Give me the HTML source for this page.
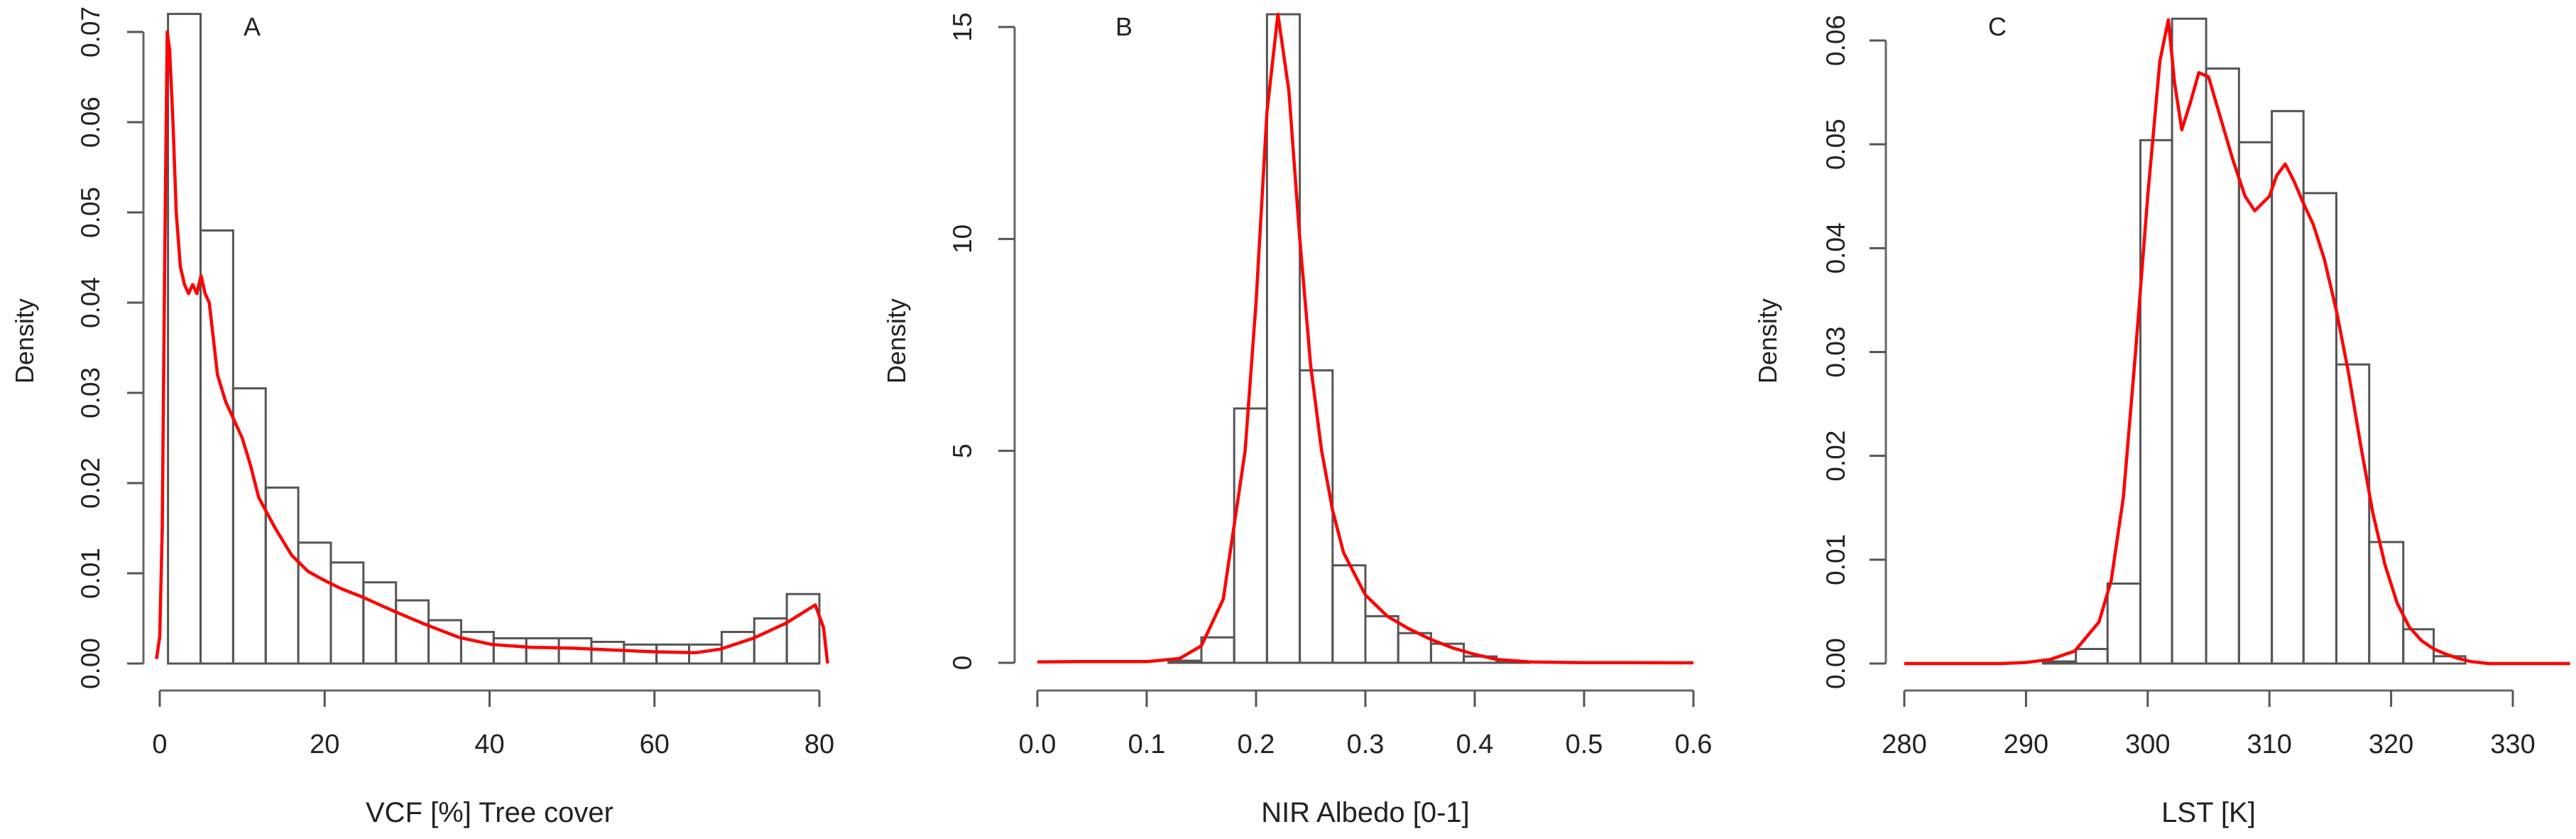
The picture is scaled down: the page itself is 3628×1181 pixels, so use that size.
<!DOCTYPE html>
<html><head><meta charset="utf-8"><style>
html,body{margin:0;padding:0;background:#fff;}
svg{display:block;}
text{font-family:"Liberation Sans",sans-serif;fill:#222;}
</style></head><body>
<svg id="chart" width="3628" height="1181" viewBox="0 0 3628 1181" xmlns="http://www.w3.org/2000/svg"></svg>
<script>
// Panel A: VCF tree cover
const aBinEdges = [1,4.95,8.9,12.85,16.8,20.75,24.7,28.65,32.6,36.55,40.5,44.45,48.4,52.35,56.3,60.25,64.2,68.15,72.1,76.05,80];
const aBarValues = [0.072,0.048,0.0305,0.0195,0.0134,0.0112,0.009,0.007,0.0048,0.0035,0.0028,0.0028,0.0028,0.0024,0.0021,0.0021,0.0021,0.0035,0.005,0.0077];
const aCurveX = [-0.4,0,0.3,0.6,0.9,1.2,1.6,2,2.5,3,3.5,4,4.5,5,5.5,6,6.5,7,8,9,10,11,12,14,16,18,20,22,24.5,28.4,32.3,36.3,40.3,45,50,55,60,65,68,72,76,79.5,80.5,81];
const aCurveY = [0.0005,0.003,0.015,0.045,0.07,0.068,0.06,0.05,0.044,0.042,0.041,0.042,0.041,0.043,0.041,0.04,0.036,0.032,0.029,0.027,0.025,0.022,0.0184,0.015,0.012,0.0102,0.0092,0.0083,0.0074,0.0058,0.0043,0.0029,0.0021,0.0018,0.0017,0.0015,0.0013,0.0012,0.0016,0.0028,0.0045,0.0065,0.004,0.0];
const aXTicks = [0,20,40,60,80];
const aYTicks = [0,0.01,0.02,0.03,0.04,0.05,0.06,0.07];
const aYTickLabels = ["0.00","0.01","0.02","0.03","0.04","0.05","0.06","0.07"];

// Panel B: NIR albedo
const bBinEdges = [0.12,0.15,0.18,0.21,0.24,0.27,0.30,0.33,0.36,0.39,0.42,0.45];
const bBarValues = [0.05,0.6,6.0,15.3,6.9,2.3,1.1,0.7,0.45,0.15,0.03];
const bCurveX = [0,0.05,0.1,0.13,0.15,0.17,0.19,0.2,0.21,0.22,0.23,0.24,0.25,0.26,0.27,0.28,0.3,0.32,0.34,0.36,0.38,0.4,0.42,0.45,0.5,0.6];
const bCurveY = [0.02,0.03,0.03,0.1,0.4,1.5,5,8.5,13,15.3,13.5,10,7,5,3.6,2.6,1.6,1.1,0.8,0.55,0.35,0.2,0.08,0.02,0.005,0];
const bXTicks = [0,0.1,0.2,0.3,0.4,0.5,0.6];
const bXTickLabels = ["0.0","0.1","0.2","0.3","0.4","0.5","0.6"];
const bYTicks = [0,5,10,15];
const bYTickLabels = ["0","5","10","15"];

// Panel C: LST
const cBinEdges = [291.4,294.1,296.7,299.4,302.0,304.8,307.5,310.2,312.8,315.5,318.2,321.0,323.5,326.1];
const cBarValues = [0.0002,0.0014,0.0077,0.0504,0.0621,0.0573,0.0502,0.0532,0.0453,0.0288,0.0117,0.0033,0.0007];
const cCurveX = [280,288,290,292,294,296,297,298,299,300,301,301.7,302.2,302.8,303.5,304.2,305,306,307,308,308.8,310,310.6,311.3,312,312.8,313.6,314.5,315.5,316.5,317.5,318.5,319.5,320.5,321.5,322.5,323.5,324.5,325.5,326.5,328,334.7];
const cCurveY = [0,0,0.0001,0.0004,0.0012,0.004,0.008,0.016,0.03,0.045,0.058,0.062,0.056,0.0514,0.054,0.0569,0.0565,0.0525,0.0485,0.045,0.0436,0.045,0.047,0.0481,0.0465,0.0443,0.0423,0.039,0.034,0.028,0.021,0.0145,0.0095,0.0058,0.0035,0.0022,0.0014,0.0009,0.0005,0.0002,0,0];
const cXTicks = [280,290,300,310,320,330];
const cYTicks = [0,0.01,0.02,0.03,0.04,0.05,0.06];
const cYTickLabels = ["0.00","0.01","0.02","0.03","0.04","0.05","0.06"];

const NS = "http://www.w3.org/2000/svg";
const svg = document.getElementById("chart");
function mk(tag, attrs, parent){
  const e = document.createElementNS(NS, tag);
  for (const k in attrs) e.setAttribute(k, attrs[k]);
  (parent||svg).appendChild(e);
  return e;
}

function panel(cfg){
  const g = mk("g", {});
  
  
  const xs = v => cfg.x0 + (v - cfg.xmin) / (cfg.xmax - cfg.xmin) * (cfg.x1 - cfg.x0);
  const ys = v => cfg.y0 - (v - cfg.ymin) / (cfg.ymax - cfg.ymin) * (cfg.y0 - cfg.y1);
  // bars
  for (let i = 0; i < cfg.values.length; i++){
    const xa = xs(cfg.edges[i]), xb = xs(cfg.edges[i+1]), yt = ys(cfg.values[i]), yb = ys(0);
    const r = mk("rect", {x: xa, y: yt, width: xb - xa, height: yb - yt, fill: "none", stroke: "#555", "stroke-width": 3}, g);
    
    
  }
  // density curve
  let d = "";
  for (let i = 0; i < cfg.cx.length; i++) d += (i ? "L" : "M") + xs(cfg.cx[i]).toFixed(1) + "," + ys(cfg.cy[i]).toFixed(1);
  const p = mk("path", {d: d, fill: "none", stroke: "#ff0000", "stroke-width": 4.5, "stroke-linejoin": "round"}, g);
  
  
  // x axis
  const axY = 972;
  const xa = mk("line", {x1: xs(cfg.xticks[0]), x2: xs(cfg.xticks[cfg.xticks.length-1]), y1: axY, y2: axY, stroke: "#666", "stroke-width": 3}, g);
  
  
  cfg.xticks.forEach((t, i) => {
    mk("line", {x1: xs(t), x2: xs(t), y1: axY, y2: axY + 23, stroke: "#555", "stroke-width": 3}, g);
    const tx = mk("text", {x: xs(t), y: 1060, "font-size": 38, "text-anchor": "middle"}, g);
    tx.textContent = cfg.xlabels ? cfg.xlabels[i] : String(t);
    
    
  });
  const xt = mk("text", {x: (xs(cfg.xticks[0]) + xs(cfg.xticks[cfg.xticks.length-1])) / 2, y: 1157, "font-size": 40, "text-anchor": "middle"}, g);
  xt.textContent = cfg.xtitle;
  
  
  // y axis
  const yTop = ys(cfg.yticks[cfg.yticks.length-1]), yBot = ys(cfg.yticks[0]);
  const ya = mk("line", {x1: cfg.yaxX, x2: cfg.yaxX, y1: yTop, y2: yBot, stroke: "#666", "stroke-width": 3}, g);
  
  
  cfg.yticks.forEach((t, i) => {
    mk("line", {x1: cfg.yaxX - 23, x2: cfg.yaxX, y1: ys(t), y2: ys(t), stroke: "#555", "stroke-width": 3}, g);
    const tx = mk("text", {x: 0, y: 0, "font-size": 37, "text-anchor": "middle", transform: "translate(" + (cfg.ylabX + 13) + "," + ys(t) + ") rotate(-90)"}, g);
    tx.textContent = cfg.ylabels[i];
    
    
  });
  const yt = mk("text", {x: 0, y: 0, "font-size": 36, "text-anchor": "middle", transform: "translate(" + (cfg.ytitleX + 12) + ",480) rotate(-90)"}, g);
  yt.textContent = "Density";
  
  
  const lt = mk("text", {x: cfg.letterX, y: 50, "font-size": 36, "text-anchor": "middle"}, g);
  lt.textContent = cfg.letter;
  
  
}

panel({key: "vcf", letter: "A", letterX: 355, x0: 225, x1: 1154, xmin: 0, xmax: 80, y0: 934, y1: 45, ymin: 0, ymax: 0.07,
  edges: aBinEdges, values: aBarValues, cx: aCurveX, cy: aCurveY, xticks: aXTicks, yticks: aYTicks, ylabels: aYTickLabels,
  xtitle: "VCF [%] Tree cover", yaxX: 202, ylabX: 127, ytitleX: 35});
panel({key: "albedo", letter: "B", letterX: 1583, x0: 1461, x1: 2385, xmin: 0, xmax: 0.6, y0: 933, y1: 38, ymin: 0, ymax: 15,
  edges: bBinEdges, values: bBarValues, cx: bCurveX, cy: bCurveY, xticks: bXTicks, xlabels: bXTickLabels, yticks: bYTicks, ylabels: bYTickLabels,
  xtitle: "NIR Albedo [0-1]", yaxX: 1429, ylabX: 1355, ytitleX: 1263});
panel({key: "lst", letter: "C", letterX: 2813, x0: 2682, x1: 3539, xmin: 280, xmax: 330, y0: 934, y1: 57, ymin: 0, ymax: 0.06,
  edges: cBinEdges, values: cBarValues, cx: cCurveX, cy: cCurveY, xticks: cXTicks, yticks: cYTicks, ylabels: cYTickLabels,
  xtitle: "LST [K]", yaxX: 2656, ylabX: 2585, ytitleX: 2490});
</script>
</body></html>
